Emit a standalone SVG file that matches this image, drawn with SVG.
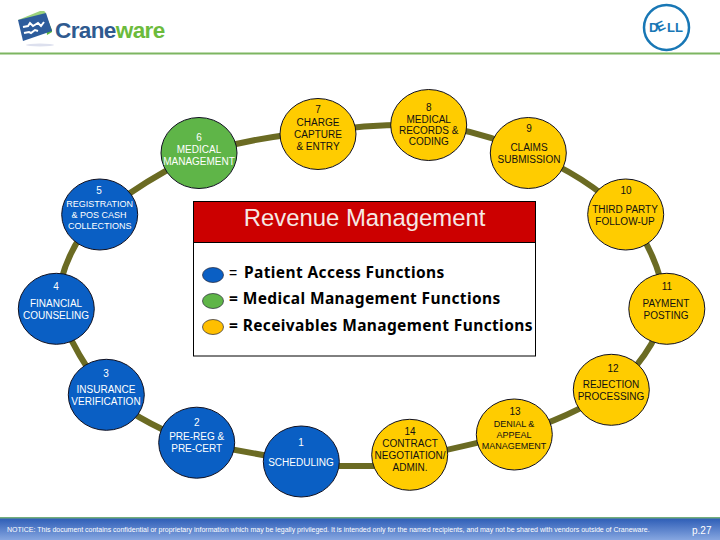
<svg xmlns="http://www.w3.org/2000/svg" width="720" height="540" viewBox="0 0 720 540">
<defs>
<linearGradient id="foot" x1="0" y1="0" x2="0" y2="1"><stop offset="0" stop-color="#2c5cb6"/><stop offset="1" stop-color="#86a6e0"/></linearGradient>
</defs>
<style>
text{font-family:"Liberation Sans",Arial,sans-serif}
.n text{font-size:10px;text-anchor:middle}
.n ellipse{stroke:#101020;stroke-width:1}
.blue ellipse{fill:#0a5fc4}.blue text{fill:#fff}
.green ellipse{fill:#5fb548}.green text{fill:#fff}
.yellow ellipse{fill:#ffcc00}.yellow text{fill:#111}
.c path{fill:none;stroke:#6b6b23;stroke-width:6}
.leg{font-family:"Noto Sans",sans-serif;font-weight:700;font-size:15.500px;letter-spacing:.38px;fill:#000}
.swatch{stroke:#223;stroke-width:.7}
</style>
<rect width="720" height="540" fill="#fff"/>
<g id="logo-craneware">
<ellipse cx="40" cy="45" rx="14" ry="1.500" fill="#dde0ee"/>
<polygon points="44,11 52,30 52,32 47,35" fill="#5cb83a"/>
<polygon points="18,20 40,11 44,11 46,13 22,23" fill="#9bd27c"/>
<polygon points="18,20 46,13 52,31 23,41" fill="#2d5c9c"/>
<path d="M23,27l5-1 2-3 3,3 5-3 3,3 3-4M24,33l5-1 2,1 4-3 3,1" fill="none" stroke="#fff" stroke-width="2"/>
<text x="55" y="38" font-size="22.500" font-weight="700" letter-spacing="-.6" fill="#2f5a8f">Crane<tspan fill="#6cbb3c">ware</tspan></text>
</g>
<rect x="0" y="52.500" width="720" height="2" fill="#7db561"/>
<g id="logo-dell">
<circle cx="666.500" cy="27.500" r="22.500" fill="#fff" stroke="#1877b5" stroke-width="2.500"/>
<text x="649" y="32" font-size="13" font-weight="700" rotate="0 -25 0 0" fill="#1877b5">DELL</text>
</g>
<g id="connectors" class="c">
<path d="M301,462L197,443"/>
<path d="M197,443Q150,428 106,395"/>
<path d="M106,395Q78,358 56,309"/>
<path d="M56,309Q62,250 99,215"/>
<path d="M99,215Q145,180 199,153"/>
<path d="M199,153Q260,136 318,132"/>
<path d="M318,132Q375,123 429,125"/>
<path d="M429,125Q480,130 529,153"/>
<path d="M529,153Q585,175 626,215"/>
<path d="M626,215Q658,250 667,309"/>
<path d="M667,309Q650,360 611,390"/>
<path d="M611,390Q570,418 514,434"/>
<path d="M514,434Q470,445 410,458"/>
<path d="M410,466L301,466"/>
</g>
<g id="panel">
<rect x="193.500" y="242" width="342" height="114" fill="#fff" stroke="#000"/>
<rect x="193.500" y="201.500" width="342" height="41" fill="#cc0000" stroke="#000"/>
<text x="364.500" y="226" font-size="23.900" text-anchor="middle" fill="#f6e8e4">Revenue Management</text>
</g>
<g id="legend">
<ellipse class="swatch" cx="213" cy="275" rx="10.500" ry="7.500" fill="#0a5fc4"/>
<ellipse class="swatch" cx="213" cy="301" rx="10.500" ry="7.500" fill="#5fb548"/>
<ellipse class="swatch" cx="213" cy="327" rx="10.500" ry="7.500" fill="#ffbf00"/>
<text x="229" y="278" font-size="14" fill="#000" font-family="Noto Sans,sans-serif">=</text>
<text class="leg" x="244" y="278">Patient Access Functions</text>
<text class="leg" x="229" y="304">= Medical Management Functions</text>
<text class="leg" x="229" y="331">= Receivables Management Functions</text>
</g>
<g id="node1" class="n blue"><ellipse cx="301.300" cy="461.500" rx="38" ry="35.500"/><text x="301" y="446">1</text><text x="301" y="466">SCHEDULING</text></g>
<g id="node2" class="n blue"><ellipse cx="196.700" cy="442.700" rx="38" ry="35.500"/><text x="196.700" y="426">2</text><text x="196.700" y="440">PRE-REG &amp;</text><text x="196.700" y="452">PRE-CERT</text></g>
<g id="node3" class="n blue"><ellipse cx="106.300" cy="394.800" rx="38" ry="35.500"/><text x="106" y="377">3</text><text x="106" y="393">INSURANCE</text><text x="106" y="405">VERIFICATION</text></g>
<g id="node4" class="n blue"><ellipse cx="56.300" cy="308.800" rx="38" ry="35.500"/><text x="56" y="290">4</text><text x="56" y="307">FINANCIAL</text><text x="56" y="319">COUNSELING</text></g>
<g id="node5" class="n blue"><ellipse cx="99.700" cy="214.500" rx="38" ry="35.500"/><text x="99" y="194">5</text><text x="99.700" y="207" style="font-size:9px">REGISTRATION</text><text x="99" y="218" style="font-size:9px">&amp; POS CASH</text><text x="99.700" y="229" style="font-size:9px">COLLECTIONS</text></g>
<g id="node6" class="n green"><ellipse cx="199" cy="153" rx="38" ry="35.500"/><text x="199" y="141">6</text><text x="199" y="153">MEDICAL</text><text x="199" y="165">MANAGEMENT</text></g>
<g id="node7" class="n yellow"><ellipse cx="318" cy="134" rx="38" ry="35.500"/><text x="318" y="113">7</text><text x="318" y="126">CHARGE</text><text x="318" y="138">CAPTURE</text><text x="318" y="150">&amp; ENTRY</text></g>
<g id="node8" class="n yellow"><ellipse cx="428.700" cy="125" rx="38" ry="35.500"/><text x="428.700" y="111">8</text><text x="428.700" y="123">MEDICAL</text><text x="428.700" y="134">RECORDS &amp;</text><text x="428.700" y="145">CODING</text></g>
<g id="node9" class="n yellow"><ellipse cx="528.300" cy="153" rx="38" ry="35.500"/><text x="529" y="132">9</text><text x="529" y="151">CLAIMS</text><text x="529" y="163">SUBMISSION</text></g>
<g id="node10" class="n yellow"><ellipse cx="625.700" cy="214.500" rx="38" ry="35.500"/><text x="626" y="194">10</text><text x="625" y="213">THIRD PARTY</text><text x="625" y="225">FOLLOW-UP</text></g>
<g id="node11" class="n yellow"><ellipse cx="666.800" cy="308.800" rx="38" ry="35.500"/><text x="667" y="290">11</text><text x="666" y="307">PAYMENT</text><text x="666" y="319">POSTING</text></g>
<g id="node12" class="n yellow"><ellipse cx="611.300" cy="389.800" rx="38" ry="35.500"/><text x="613" y="372">12</text><text x="611" y="388">REJECTION</text><text x="611" y="400">PROCESSING</text></g>
<g id="node13" class="n yellow"><ellipse cx="514.300" cy="434.500" rx="38" ry="35.500"/><text x="515" y="415">13</text><text x="514" y="427" style="font-size:9px">DENIAL &amp;</text><text x="514" y="438" style="font-size:9px">APPEAL</text><text x="514" y="449" style="font-size:9px">MANAGEMENT</text></g>
<g id="node14" class="n yellow"><ellipse cx="409.700" cy="454.800" rx="38" ry="35.500"/><text x="410" y="435">14</text><text x="410" y="447">CONTRACT</text><text x="410" y="459">NEGOTIATION/</text><text x="410" y="471">ADMIN.</text></g>
<g id="footer">
<rect x="0" y="518" width="720" height="22" fill="url(#foot)"/>
<rect x="0" y="517" width="720" height="1.500" fill="#74ae7c"/>
<text x="7" y="532" font-size="7" fill="#fff">NOTICE: This document contains confidential or proprietary information which may be legally privileged. It is intended only for the named recipients, and may not be shared with vendors outside of Craneware.</text>
<text x="692" y="534" font-size="10" fill="#fff">p.27</text>
</g>
</svg>
